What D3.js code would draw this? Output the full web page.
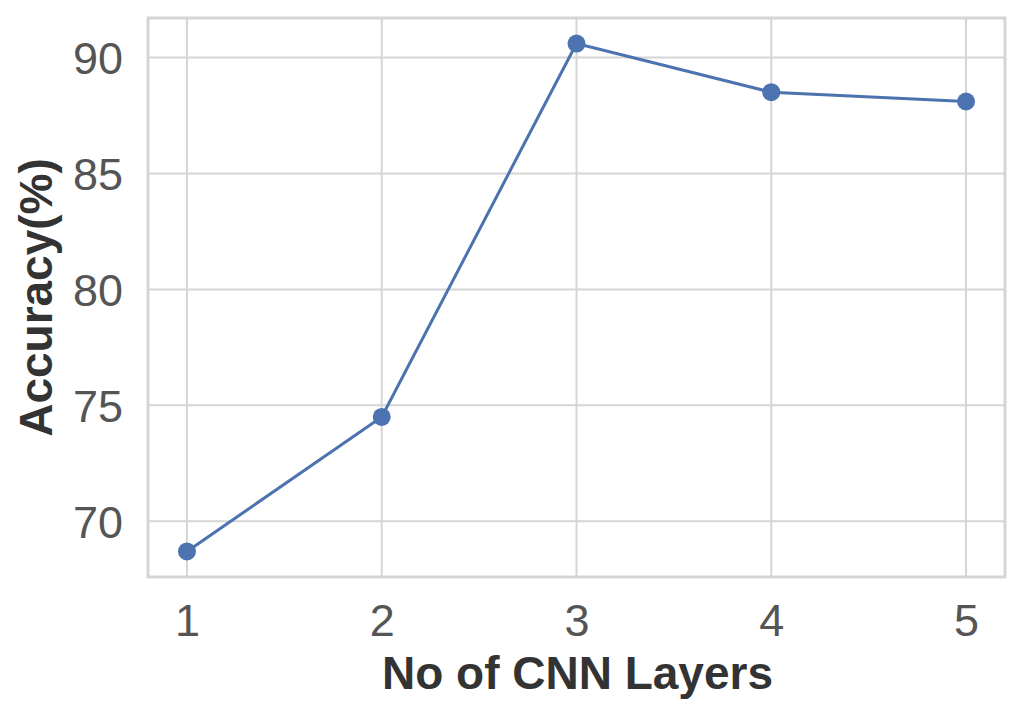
<!DOCTYPE html>
<html><head><meta charset="utf-8">
<script src="https://cdn.jsdelivr.net/npm/d3@7"></script>
<style>body{margin:0;background:#fff}svg{display:block}text{font-family:"Liberation Sans",Arial,sans-serif}</style>
</head><body><svg id="c" width="1024" height="716"></svg>
<script>
const layers = [1, 2, 3, 4, 5];
const accuracy = [68.7, 74.5, 90.6, 88.5, 88.1];
const xTicks = [1, 2, 3, 4, 5];
const yTicks = [70, 75, 80, 85, 90];

const svg = d3.select("#c");
const L = 148, R = 1005, T = 18, B = 577;
const x = d3.scaleLinear().domain([0.8, 5.2]).range([L, R]);
const y = d3.scaleLinear().domain([67.6, 91.7]).range([B, T]);

const grid = "#d5d5d5";
svg.append("g").selectAll("line").data(xTicks).join("line")
  .attr("x1", d => x(d)).attr("x2", d => x(d)).attr("y1", T).attr("y2", B)
  .attr("stroke", grid).attr("stroke-width", 2);
svg.append("g").selectAll("line").data(yTicks).join("line")
  .attr("y1", d => y(d)).attr("y2", d => y(d)).attr("x1", L).attr("x2", R)
  .attr("stroke", grid).attr("stroke-width", 2);
svg.append("rect").attr("x", L).attr("y", T).attr("width", R - L).attr("height", B - T)
  .attr("fill", "none").attr("stroke", grid).attr("stroke-width", 3);

const xa = svg.append("g").attr("transform", `translate(0,${B})`)
  .call(d3.axisBottom(x).tickValues(xTicks).tickSize(0).tickPadding(27).tickFormat(d3.format("d")));
xa.select(".domain").remove();
xa.selectAll("text").attr("font-size", 45).attr("fill", "#555").attr("dy", "0.71em");

const ya = svg.append("g").attr("transform", `translate(${L},0)`)
  .call(d3.axisLeft(y).tickValues(yTicks).tickSize(0).tickPadding(25).tickFormat(d3.format("d")));
ya.select(".domain").remove();
ya.selectAll("text").attr("font-size", 45).attr("fill", "#555").attr("dy", "0.36em");

svg.append("path").datum(layers.map((l, i) => [l, accuracy[i]]))
  .attr("d", d3.line().x(d => x(d[0])).y(d => y(d[1])))
  .attr("fill", "none").attr("stroke", "#4c72b0").attr("stroke-width", 3);
svg.append("g").selectAll("circle").data(layers.map((l, i) => [l, accuracy[i]])).join("circle")
  .attr("cx", d => x(d[0])).attr("cy", d => y(d[1])).attr("r", 9).attr("fill", "#4c72b0");

svg.append("text").attr("x", (L + R) / 2 + 1).attr("y", 689).attr("text-anchor", "middle")
  .attr("font-size", 46).attr("font-weight", "bold").attr("fill", "#333").text("No of CNN Layers");
svg.append("text").attr("transform", `translate(52,${(T + B) / 2}) rotate(-90)`).attr("text-anchor", "middle")
  .attr("font-size", 46).attr("font-weight", "bold").attr("fill", "#333").text("Accuracy(%)");
</script></body></html>
